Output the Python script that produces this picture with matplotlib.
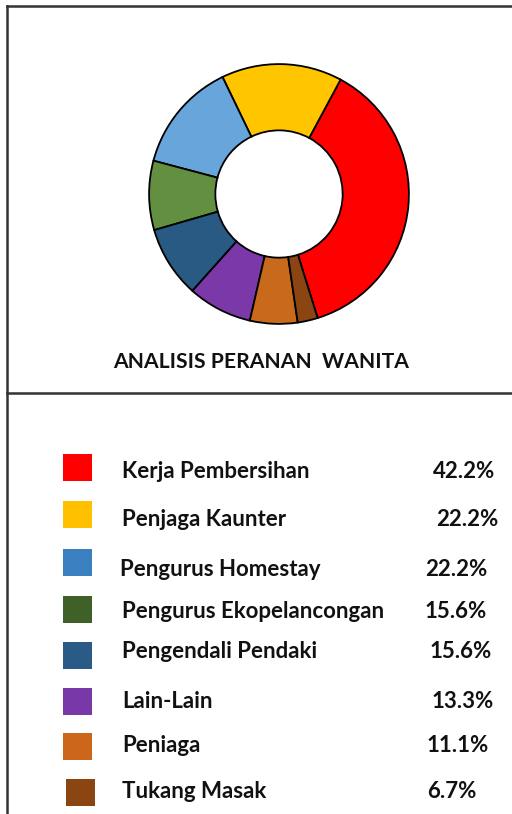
"""Donut chart: analisis peranan wanita, with a boxed legend table below."""
import matplotlib
matplotlib.use("Agg")
import matplotlib.pyplot as plt
from matplotlib.lines import Line2D
from matplotlib.patches import Rectangle

# legend rows (order as listed in the table)
roles = ["Kerja Pembersihan", "Penjaga Kaunter", "Pengurus Homestay",
         "Pengurus Ekopelancongan", "Pengendali Pendaki", "Lain-Lain",
         "Peniaga", "Tukang Masak"]
legend_pct = ["42.2%", "22.2%", "22.2%", "15.6%", "15.6%", "13.3%", "11.1%", "6.7%"]

# donut slice shares as drawn (read from the ring, same order as roles)
slice_share = [37.3, 15.0, 13.7, 8.6, 8.9, 8.0, 5.9, 2.5]

ring_colors = ["#FF0000", "#FFC600", "#68A5DA", "#629040",
               "#285A84", "#7A38A8", "#C8691C", "#8B4513"]
key_colors = ["#FF0000", "#FFC000", "#3A7FC0", "#3F6128",
              "#2A5A86", "#7838A8", "#CC661A", "#8B4513"]

W, H = 512, 814
FONT = "Lato"


def fx(px):
    return px / W


def fy(py):
    return 1 - py / H


fig = plt.figure(figsize=(W / 100, H / 100), dpi=100)
fig.patch.set_facecolor("white")

# donut
cx, cy, r = 279, 194, 132.5
ax = fig.add_axes([fx(cx - r), fy(cy + r), 2 * r / W, 2 * r / H])
ax.pie(slice_share, colors=ring_colors, startangle=-72.7, counterclock=True,
       radius=1.0,
       wedgeprops=dict(width=0.51, edgecolor="black", linewidth=1.3))
ax.set_xlim(-1.02, 1.02)
ax.set_ylim(-1.02, 1.02)
ax.set_aspect("equal")
ax.axis("off")

fig.text(fx(261), fy(362), "ANALISIS PERANAN  WANITA", ha="center", va="center",
         fontsize=15.2, fontweight="bold", family=FONT, color="#111111")

# frame lines
frame = dict(color="#333333", linewidth=1.8, transform=fig.transFigure)
fig.add_artist(Line2D([fx(7), 1], [fy(6), fy(6)], **frame))
fig.add_artist(Line2D([fx(7), fx(7)], [fy(6), 0], **frame))
fig.add_artist(Line2D([fx(7), 1], [fy(393), fy(393)], **frame))

# legend table
row_y = [472, 519, 569, 611, 652, 701, 746, 792]
sq_y = [454, 501, 549, 596, 642, 688, 733, 779]
pct_x = [433, 436, 425, 425, 430, 432, 427, 427]
for i, (name, pct) in enumerate(zip(roles, legend_pct)):
    y = row_y[i]
    sq_x = 63 if i < 7 else 66
    fig.add_artist(Rectangle((fx(sq_x), fy(sq_y[i] + 27)), 29 / W, 27 / H,
                             transform=fig.transFigure, facecolor=key_colors[i],
                             edgecolor="none"))
    fig.text(fx(122 if i != 2 else 120), fy(y), name, ha="left", va="center",
             fontsize=16, fontweight="bold", family=FONT, color="#111111")
    fig.text(fx(pct_x[i]), fy(y), pct, ha="left", va="center", fontsize=16,
             fontweight="bold", family=FONT, color="#111111")

fig.savefig("out.png", dpi=100)
plt.close(fig)
